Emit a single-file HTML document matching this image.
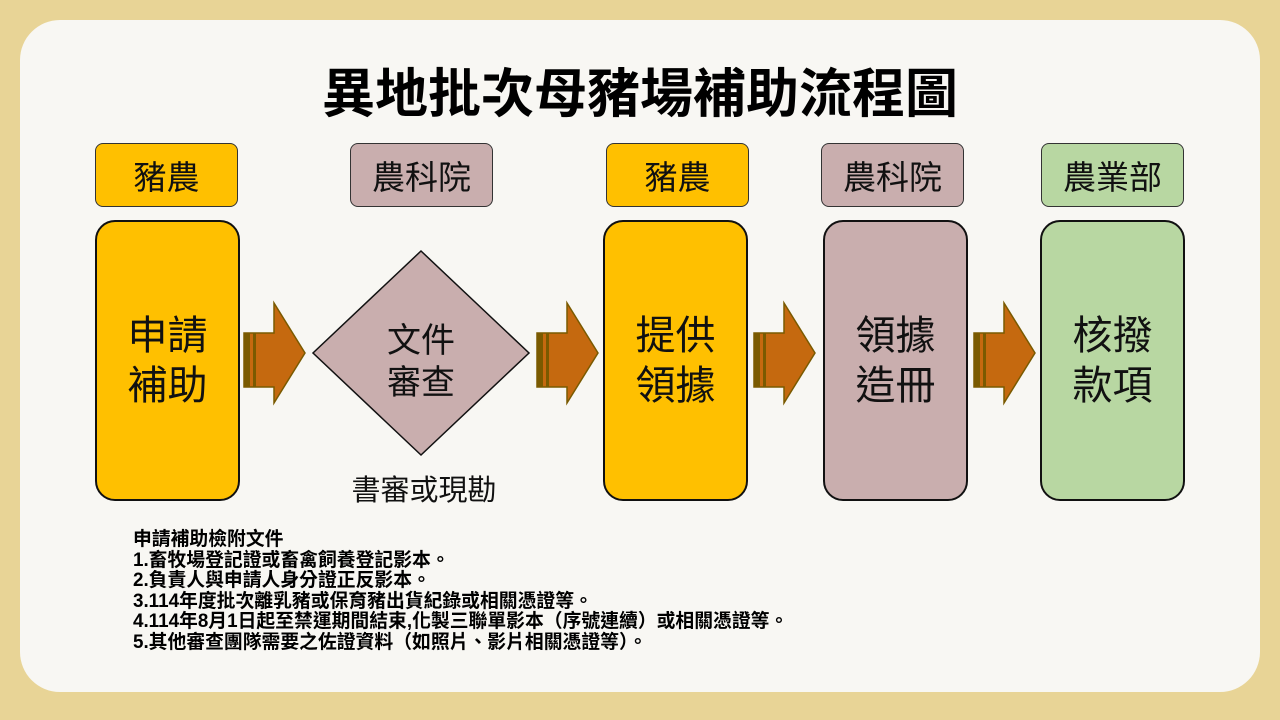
<!DOCTYPE html>
<html><head><meta charset="utf-8"><style>
body{margin:0;width:1280px;height:720px;background:#e8d496;position:relative;overflow:hidden;font-family:"Liberation Sans","Noto Sans CJK TC",sans-serif}
.card{position:absolute;left:20px;top:20px;width:1240px;height:672px;background:#f8f7f3;border-radius:40px}
.t{position:absolute;left:0;width:1280px;top:52px;text-align:center;font-size:53px;font-weight:bold;color:#000}
.h{position:absolute;top:143px;height:64px;width:143px;border:1.5px solid #333;border-radius:8px;box-sizing:border-box;display:flex;align-items:center;justify-content:center;font-size:33px;color:#111}
.b{position:absolute;top:220px;height:281px;width:145px;border:2px solid #111;border-radius:20px;box-sizing:border-box;display:flex;align-items:center;justify-content:center;font-size:40px;line-height:50px;text-align:center;color:#111}
.y{background:#ffc000}.p{background:#c9aeae}.g{background:#b8d7a2}
.n{position:absolute;left:133px;top:530px;font-size:19px;line-height:20.5px;font-weight:bold;color:#000;transform:scaleX(0.99);transform-origin:left top;white-space:nowrap}
</style></head><body>
<div class="card"></div>
<div class="t">異地批次母豬場補助流程圖</div>
<div class="h y" style="left:95px">豬農</div>
<div class="h p" style="left:350px">農科院</div>
<div class="h y" style="left:606px">豬農</div>
<div class="h p" style="left:821px">農科院</div>
<div class="h g" style="left:1041px">農業部</div>
<div class="b y" style="left:95px">申請<br>補助</div>
<div class="b y" style="left:603px">提供<br>領據</div>
<div class="b p" style="left:823px">領據<br>造冊</div>
<div class="b g" style="left:1040px">核撥<br>款項</div>
<svg style="position:absolute;left:0;top:0" width="1280" height="720">
<polygon points="421,251 529,353 421,455 313,353" fill="#c9aeae" stroke="#111" stroke-width="1.5"/>
<text x="421" y="352" text-anchor="middle" font-size="34" fill="#111" font-family="Liberation Sans,Noto Sans CJK TC,sans-serif">文件</text>
<text x="421" y="394" text-anchor="middle" font-size="34" fill="#111" font-family="Liberation Sans,Noto Sans CJK TC,sans-serif">審查</text>
<text x="424" y="500" text-anchor="middle" font-size="29" fill="#111" font-family="Liberation Sans,Noto Sans CJK TC,sans-serif">書審或現勘</text>
<g id="a">
<polygon points="244,333 274,333 274,303 305,353 274,403 274,387 244,387" fill="#c5690f" stroke="#7a5a00" stroke-width="1.5"/>
<rect x="244" y="333" width="6" height="54" fill="#7a5a00"/>
<rect x="253" y="333" width="3" height="54" fill="#7a5a00"/>
</g>
<use href="#a" x="293"/>
<use href="#a" x="510"/>
<use href="#a" x="730"/>
</svg>
<div class="n">申請補助檢附文件<br>1.畜牧場登記證或畜禽飼養登記影本。<br>2.負責人與申請人身分證正反影本。<br>3.114年度批次離乳豬或保育豬出貨紀錄或相關憑證等。<br>4.114年8月1日起至禁運期間結束,化製三聯單影本（序號連續）或相關憑證等。<br>5.其他審查團隊需要之佐證資料（如照片、影片相關憑證等）。</div>
</body></html>
